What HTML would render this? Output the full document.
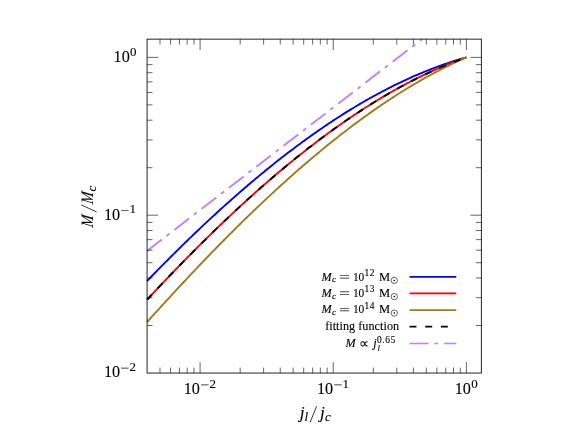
<!DOCTYPE html>
<html><head><meta charset="utf-8"><title>plot</title>
<style>html,body{margin:0;padding:0;background:#fff;}svg{display:block;font-family:"Liberation Serif",serif;}</style>
</head><body>
<svg width="578" height="432" viewBox="0 0 578 432">
<defs><filter id="soft" x="0" y="0" width="578" height="432" filterUnits="userSpaceOnUse"><feGaussianBlur stdDeviation="0.3"/></filter></defs>
<rect width="578" height="432" fill="#fff"/>
<g fill="none" stroke-width="1.9" stroke-linecap="butt" stroke-linejoin="round">
<path d="M147.08 281.01 L148.68 279.35 L150.29 277.69 L151.89 276.03 L153.50 274.38 L155.10 272.74 L156.71 271.10 L158.31 269.46 L159.92 267.83 L161.52 266.20 L163.13 264.57 L164.73 262.95 L166.34 261.33 L167.94 259.72 L169.54 258.12 L171.15 256.51 L172.75 254.91 L174.36 253.32 L175.96 251.73 L177.57 250.14 L179.17 248.56 L180.78 246.98 L182.38 245.41 L183.99 243.84 L185.59 242.28 L187.20 240.72 L188.80 239.17 L190.40 237.62 L192.01 236.07 L193.61 234.53 L195.22 233.00 L196.82 231.47 L198.43 229.94 L200.03 228.42 L201.64 226.90 L203.24 225.39 L204.85 223.88 L206.45 222.38 L208.06 220.88 L209.66 219.39 L211.26 217.90 L212.87 216.42 L214.47 214.94 L216.08 213.46 L217.68 212.00 L219.29 210.53 L220.89 209.07 L222.50 207.62 L224.10 206.17 L225.71 204.73 L227.31 203.29 L228.92 201.86 L230.52 200.43 L232.13 199.01 L233.73 197.59 L235.33 196.18 L236.94 194.77 L238.54 193.37 L240.15 191.97 L241.75 190.58 L243.36 189.19 L244.96 187.81 L246.57 186.43 L248.17 185.06 L249.78 183.70 L251.38 182.34 L252.99 180.98 L254.59 179.64 L256.19 178.29 L257.80 176.95 L259.40 175.62 L261.01 174.30 L262.61 172.97 L264.22 171.66 L265.82 170.35 L267.43 169.04 L269.03 167.74 L270.64 166.45 L272.24 165.16 L273.85 163.88 L275.45 162.60 L277.05 161.33 L278.66 160.07 L280.26 158.81 L281.87 157.56 L283.47 156.31 L285.08 155.07 L286.68 153.83 L288.29 152.60 L289.89 151.38 L291.50 150.16 L293.10 148.95 L294.71 147.74 L296.31 146.54 L297.91 145.34 L299.52 144.16 L301.12 142.97 L302.73 141.80 L304.33 140.63 L305.94 139.46 L307.54 138.30 L309.15 137.15 L310.75 136.01 L312.36 134.87 L313.96 133.73 L315.57 132.61 L317.17 131.48 L318.77 130.37 L320.38 129.26 L321.98 128.16 L323.59 127.06 L325.19 125.97 L326.80 124.89 L328.40 123.81 L330.01 122.74 L331.61 121.68 L333.22 120.62 L334.82 119.57 L336.43 118.53 L338.03 117.49 L339.63 116.46 L341.24 115.43 L342.84 114.42 L344.45 113.40 L346.05 112.40 L347.66 111.40 L349.26 110.41 L350.87 109.42 L352.47 108.44 L354.08 107.47 L355.68 106.51 L357.29 105.55 L358.89 104.60 L360.49 103.65 L362.10 102.72 L363.70 101.79 L365.31 100.86 L366.91 99.94 L368.52 99.03 L370.12 98.13 L371.73 97.23 L373.33 96.34 L374.94 95.46 L376.54 94.59 L378.15 93.72 L379.75 92.86 L381.35 92.00 L382.96 91.16 L384.56 90.32 L386.17 89.48 L387.77 88.66 L389.38 87.84 L390.98 87.03 L392.59 86.22 L394.19 85.43 L395.80 84.64 L397.40 83.85 L399.01 83.08 L400.61 82.31 L402.22 81.55 L403.82 80.80 L405.42 80.05 L407.03 79.31 L408.63 78.58 L410.24 77.86 L411.84 77.14 L413.45 76.44 L415.05 75.73 L416.66 75.04 L418.26 74.36 L419.87 73.68 L421.47 73.01 L423.08 72.34 L424.68 71.69 L426.28 71.04 L427.89 70.40 L429.49 69.77 L431.10 69.14 L432.70 68.53 L434.31 67.92 L435.91 67.32 L437.52 66.72 L439.12 66.14 L440.73 65.56 L442.33 64.99 L443.94 64.43 L445.54 63.87 L447.14 63.33 L448.75 62.79 L450.35 62.26 L451.96 61.74 L453.56 61.22 L455.17 60.72 L456.77 60.22 L458.38 59.73 L459.98 59.25 L461.59 58.77 L463.19 58.31 L464.80 57.85 L466.40 57.40" stroke="#0000ff"/>
<path d="M147.08 299.71 L148.68 297.99 L150.29 296.26 L151.89 294.55 L153.50 292.83 L155.10 291.12 L156.71 289.42 L158.31 287.71 L159.92 286.02 L161.52 284.32 L163.13 282.63 L164.73 280.94 L166.34 279.26 L167.94 277.58 L169.54 275.90 L171.15 274.23 L172.75 272.56 L174.36 270.90 L175.96 269.24 L177.57 267.58 L179.17 265.93 L180.78 264.28 L182.38 262.64 L183.99 261.00 L185.59 259.36 L187.20 257.73 L188.80 256.11 L190.40 254.48 L192.01 252.86 L193.61 251.25 L195.22 249.64 L196.82 248.03 L198.43 246.43 L200.03 244.83 L201.64 243.24 L203.24 241.65 L204.85 240.07 L206.45 238.49 L208.06 236.91 L209.66 235.34 L211.26 233.78 L212.87 232.21 L214.47 230.66 L216.08 229.10 L217.68 227.56 L219.29 226.01 L220.89 224.47 L222.50 222.94 L224.10 221.41 L225.71 219.88 L227.31 218.36 L228.92 216.85 L230.52 215.34 L232.13 213.83 L233.73 212.33 L235.33 210.83 L236.94 209.34 L238.54 207.86 L240.15 206.38 L241.75 204.90 L243.36 203.43 L244.96 201.96 L246.57 200.50 L248.17 199.04 L249.78 197.59 L251.38 196.14 L252.99 194.70 L254.59 193.26 L256.19 191.83 L257.80 190.41 L259.40 188.99 L261.01 187.57 L262.61 186.16 L264.22 184.75 L265.82 183.35 L267.43 181.96 L269.03 180.57 L270.64 179.19 L272.24 177.81 L273.85 176.43 L275.45 175.06 L277.05 173.70 L278.66 172.35 L280.26 170.99 L281.87 169.65 L283.47 168.31 L285.08 166.97 L286.68 165.64 L288.29 164.32 L289.89 163.00 L291.50 161.69 L293.10 160.38 L294.71 159.08 L296.31 157.78 L297.91 156.49 L299.52 155.21 L301.12 153.93 L302.73 152.66 L304.33 151.39 L305.94 150.13 L307.54 148.87 L309.15 147.62 L310.75 146.38 L312.36 145.14 L313.96 143.91 L315.57 142.69 L317.17 141.47 L318.77 140.25 L320.38 139.05 L321.98 137.84 L323.59 136.65 L325.19 135.46 L326.80 134.28 L328.40 133.10 L330.01 131.93 L331.61 130.76 L333.22 129.61 L334.82 128.45 L336.43 127.31 L338.03 126.17 L339.63 125.03 L341.24 123.91 L342.84 122.79 L344.45 121.67 L346.05 120.56 L347.66 119.46 L349.26 118.37 L350.87 117.28 L352.47 116.20 L354.08 115.12 L355.68 114.05 L357.29 112.99 L358.89 111.94 L360.49 110.89 L362.10 109.84 L363.70 108.81 L365.31 107.78 L366.91 106.76 L368.52 105.74 L370.12 104.73 L371.73 103.73 L373.33 102.73 L374.94 101.75 L376.54 100.76 L378.15 99.79 L379.75 98.82 L381.35 97.86 L382.96 96.91 L384.56 95.96 L386.17 95.02 L387.77 94.08 L389.38 93.16 L390.98 92.24 L392.59 91.33 L394.19 90.42 L395.80 89.52 L397.40 88.63 L399.01 87.75 L400.61 86.87 L402.22 86.00 L403.82 85.14 L405.42 84.29 L407.03 83.44 L408.63 82.60 L410.24 81.77 L411.84 80.94 L413.45 80.12 L415.05 79.31 L416.66 78.51 L418.26 77.71 L419.87 76.92 L421.47 76.14 L423.08 75.37 L424.68 74.60 L426.28 73.84 L427.89 73.09 L429.49 72.35 L431.10 71.61 L432.70 70.89 L434.31 70.17 L435.91 69.45 L437.52 68.75 L439.12 68.05 L440.73 67.36 L442.33 66.68 L443.94 66.01 L445.54 65.34 L447.14 64.68 L448.75 64.03 L450.35 63.39 L451.96 62.75 L453.56 62.13 L455.17 61.51 L456.77 60.90 L458.38 60.29 L459.98 59.70 L461.59 59.11 L463.19 58.53 L464.80 57.96 L466.40 57.40" stroke="#ff0000"/>
<path d="M147.08 322.08 L148.68 320.29 L150.29 318.51 L151.89 316.73 L153.50 314.95 L155.10 313.17 L156.71 311.40 L158.31 309.63 L159.92 307.87 L161.52 306.10 L163.13 304.34 L164.73 302.59 L166.34 300.83 L167.94 299.08 L169.54 297.34 L171.15 295.59 L172.75 293.85 L174.36 292.11 L175.96 290.38 L177.57 288.65 L179.17 286.92 L180.78 285.20 L182.38 283.48 L183.99 281.76 L185.59 280.04 L187.20 278.33 L188.80 276.63 L190.40 274.92 L192.01 273.22 L193.61 271.53 L195.22 269.84 L196.82 268.15 L198.43 266.46 L200.03 264.78 L201.64 263.10 L203.24 261.43 L204.85 259.76 L206.45 258.09 L208.06 256.43 L209.66 254.77 L211.26 253.11 L212.87 251.46 L214.47 249.82 L216.08 248.17 L217.68 246.53 L219.29 244.90 L220.89 243.27 L222.50 241.64 L224.10 240.02 L225.71 238.40 L227.31 236.78 L228.92 235.17 L230.52 233.57 L232.13 231.96 L233.73 230.36 L235.33 228.77 L236.94 227.18 L238.54 225.60 L240.15 224.02 L241.75 222.44 L243.36 220.87 L244.96 219.30 L246.57 217.74 L248.17 216.18 L249.78 214.62 L251.38 213.07 L252.99 211.53 L254.59 209.99 L256.19 208.45 L257.80 206.92 L259.40 205.40 L261.01 203.87 L262.61 202.36 L264.22 200.85 L265.82 199.34 L267.43 197.84 L269.03 196.34 L270.64 194.84 L272.24 193.36 L273.85 191.87 L275.45 190.40 L277.05 188.92 L278.66 187.45 L280.26 185.99 L281.87 184.53 L283.47 183.08 L285.08 181.63 L286.68 180.19 L288.29 178.75 L289.89 177.32 L291.50 175.89 L293.10 174.47 L294.71 173.05 L296.31 171.64 L297.91 170.23 L299.52 168.83 L301.12 167.44 L302.73 166.05 L304.33 164.66 L305.94 163.28 L307.54 161.91 L309.15 160.54 L310.75 159.18 L312.36 157.82 L313.96 156.47 L315.57 155.12 L317.17 153.78 L318.77 152.45 L320.38 151.12 L321.98 149.80 L323.59 148.48 L325.19 147.17 L326.80 145.86 L328.40 144.56 L330.01 143.26 L331.61 141.98 L333.22 140.69 L334.82 139.42 L336.43 138.15 L338.03 136.88 L339.63 135.62 L341.24 134.37 L342.84 133.12 L344.45 131.88 L346.05 130.65 L347.66 129.42 L349.26 128.20 L350.87 126.98 L352.47 125.77 L354.08 124.57 L355.68 123.37 L357.29 122.18 L358.89 120.99 L360.49 119.81 L362.10 118.64 L363.70 117.48 L365.31 116.32 L366.91 115.16 L368.52 114.02 L370.12 112.88 L371.73 111.75 L373.33 110.62 L374.94 109.50 L376.54 108.39 L378.15 107.28 L379.75 106.18 L381.35 105.08 L382.96 104.00 L384.56 102.92 L386.17 101.84 L387.77 100.78 L389.38 99.72 L390.98 98.67 L392.59 97.62 L394.19 96.58 L395.80 95.55 L397.40 94.52 L399.01 93.51 L400.61 92.49 L402.22 91.49 L403.82 90.49 L405.42 89.50 L407.03 88.52 L408.63 87.54 L410.24 86.58 L411.84 85.61 L413.45 84.66 L415.05 83.71 L416.66 82.77 L418.26 81.84 L419.87 80.92 L421.47 80.00 L423.08 79.09 L424.68 78.19 L426.28 77.29 L427.89 76.40 L429.49 75.52 L431.10 74.65 L432.70 73.78 L434.31 72.93 L435.91 72.08 L437.52 71.23 L439.12 70.40 L440.73 69.57 L442.33 68.75 L443.94 67.94 L445.54 67.14 L447.14 66.34 L448.75 65.55 L450.35 64.77 L451.96 64.00 L453.56 63.23 L455.17 62.48 L456.77 61.73 L458.38 60.99 L459.98 60.25 L461.59 59.53 L463.19 58.81 L464.80 58.10 L466.40 57.40" stroke="#a37a14"/>
<path d="M147.08 299.71 L148.68 297.99 L150.29 296.26 L151.89 294.55 L153.50 292.83 L155.10 291.12 L156.71 289.42 L158.31 287.71 L159.92 286.02 L161.52 284.32 L163.13 282.63 L164.73 280.94 L166.34 279.26 L167.94 277.58 L169.54 275.90 L171.15 274.23 L172.75 272.56 L174.36 270.90 L175.96 269.24 L177.57 267.58 L179.17 265.93 L180.78 264.28 L182.38 262.64 L183.99 261.00 L185.59 259.36 L187.20 257.73 L188.80 256.11 L190.40 254.48 L192.01 252.86 L193.61 251.25 L195.22 249.64 L196.82 248.03 L198.43 246.43 L200.03 244.83 L201.64 243.24 L203.24 241.65 L204.85 240.07 L206.45 238.49 L208.06 236.91 L209.66 235.34 L211.26 233.78 L212.87 232.21 L214.47 230.66 L216.08 229.10 L217.68 227.56 L219.29 226.01 L220.89 224.47 L222.50 222.94 L224.10 221.41 L225.71 219.88 L227.31 218.36 L228.92 216.85 L230.52 215.34 L232.13 213.83 L233.73 212.33 L235.33 210.83 L236.94 209.34 L238.54 207.86 L240.15 206.38 L241.75 204.90 L243.36 203.43 L244.96 201.96 L246.57 200.50 L248.17 199.04 L249.78 197.59 L251.38 196.14 L252.99 194.70 L254.59 193.26 L256.19 191.83 L257.80 190.41 L259.40 188.99 L261.01 187.57 L262.61 186.16 L264.22 184.75 L265.82 183.35 L267.43 181.96 L269.03 180.57 L270.64 179.19 L272.24 177.81 L273.85 176.43 L275.45 175.06 L277.05 173.70 L278.66 172.35 L280.26 170.99 L281.87 169.65 L283.47 168.31 L285.08 166.97 L286.68 165.64 L288.29 164.32 L289.89 163.00 L291.50 161.69 L293.10 160.38 L294.71 159.08 L296.31 157.78 L297.91 156.49 L299.52 155.21 L301.12 153.93 L302.73 152.66 L304.33 151.39 L305.94 150.13 L307.54 148.87 L309.15 147.62 L310.75 146.38 L312.36 145.14 L313.96 143.91 L315.57 142.69 L317.17 141.47 L318.77 140.25 L320.38 139.05 L321.98 137.84 L323.59 136.65 L325.19 135.46 L326.80 134.28 L328.40 133.10 L330.01 131.93 L331.61 130.76 L333.22 129.61 L334.82 128.45 L336.43 127.31 L338.03 126.17 L339.63 125.03 L341.24 123.91 L342.84 122.79 L344.45 121.67 L346.05 120.56 L347.66 119.46 L349.26 118.37 L350.87 117.28 L352.47 116.20 L354.08 115.12 L355.68 114.05 L357.29 112.99 L358.89 111.94 L360.49 110.89 L362.10 109.84 L363.70 108.81 L365.31 107.78 L366.91 106.76 L368.52 105.74 L370.12 104.73 L371.73 103.73 L373.33 102.73 L374.94 101.75 L376.54 100.76 L378.15 99.79 L379.75 98.82 L381.35 97.86 L382.96 96.91 L384.56 95.96 L386.17 95.02 L387.77 94.08 L389.38 93.16 L390.98 92.24 L392.59 91.33 L394.19 90.42 L395.80 89.52 L397.40 88.63 L399.01 87.75 L400.61 86.87 L402.22 86.00 L403.82 85.14 L405.42 84.29 L407.03 83.44 L408.63 82.60 L410.24 81.77 L411.84 80.94 L413.45 80.12 L415.05 79.31 L416.66 78.51 L418.26 77.71 L419.87 76.92 L421.47 76.14 L423.08 75.37 L424.68 74.60 L426.28 73.84 L427.89 73.09 L429.49 72.35 L431.10 71.61 L432.70 70.89 L434.31 70.17 L435.91 69.45 L437.52 68.75 L439.12 68.05 L440.73 67.36 L442.33 66.68 L443.94 66.01 L445.54 65.34 L447.14 64.68 L448.75 64.03 L450.35 63.39 L451.96 62.75 L453.56 62.13 L455.17 61.51 L456.77 60.90 L458.38 60.29 L459.98 59.70 L461.59 59.11 L463.19 58.53 L464.80 57.96 L466.40 57.40" stroke="#000" stroke-dasharray="6.9 8.75"/>
<path d="M147.08 250.90 L422.01 39.13" stroke="#c080ff" stroke-dasharray="18.6 6 3.75 6.1"/>
</g>
<path d="M159.99 373.05v-5.45 M159.99 39.13v5.45 M170.54 373.05v-5.45 M170.54 39.13v5.45 M179.45 373.05v-5.45 M179.45 39.13v5.45 M187.18 373.05v-5.45 M187.18 39.13v5.45 M193.99 373.05v-5.45 M193.99 39.13v5.45 M200.08 373.05v-10.90 M200.08 39.13v10.90 M240.17 373.05v-5.45 M240.17 39.13v5.45 M147.08 325.50h5.45 M481.33 325.50h-5.45 M263.61 373.05v-5.45 M263.61 39.13v5.45 M147.08 297.71h5.45 M481.33 297.71h-5.45 M280.25 373.05v-5.45 M280.25 39.13v5.45 M147.08 277.99h5.45 M481.33 277.99h-5.45 M293.15 373.05v-5.45 M293.15 39.13v5.45 M147.08 262.70h5.45 M481.33 262.70h-5.45 M303.70 373.05v-5.45 M303.70 39.13v5.45 M147.08 250.21h5.45 M481.33 250.21h-5.45 M312.61 373.05v-5.45 M312.61 39.13v5.45 M147.08 239.64h5.45 M481.33 239.64h-5.45 M320.34 373.05v-5.45 M320.34 39.13v5.45 M147.08 230.49h5.45 M481.33 230.49h-5.45 M327.15 373.05v-5.45 M327.15 39.13v5.45 M147.08 222.42h5.45 M481.33 222.42h-5.45 M333.24 373.05v-10.90 M333.24 39.13v10.90 M147.08 215.20h10.90 M481.33 215.20h-10.90 M373.33 373.05v-5.45 M373.33 39.13v5.45 M147.08 167.70h5.45 M481.33 167.70h-5.45 M396.77 373.05v-5.45 M396.77 39.13v5.45 M147.08 139.91h5.45 M481.33 139.91h-5.45 M413.41 373.05v-5.45 M413.41 39.13v5.45 M147.08 120.19h5.45 M481.33 120.19h-5.45 M426.31 373.05v-5.45 M426.31 39.13v5.45 M147.08 104.90h5.45 M481.33 104.90h-5.45 M436.86 373.05v-5.45 M436.86 39.13v5.45 M147.08 92.41h5.45 M481.33 92.41h-5.45 M445.77 373.05v-5.45 M445.77 39.13v5.45 M147.08 81.84h5.45 M481.33 81.84h-5.45 M453.50 373.05v-5.45 M453.50 39.13v5.45 M147.08 72.69h5.45 M481.33 72.69h-5.45 M460.31 373.05v-5.45 M460.31 39.13v5.45 M147.08 64.62h5.45 M481.33 64.62h-5.45 M466.40 373.05v-10.90 M466.40 39.13v10.90 M147.08 57.40h10.90 M481.33 57.40h-10.90" stroke="#000" stroke-width="0.6" fill="none"/>
<rect x="147.08" y="39.13" width="334.25" height="333.92" fill="none" stroke="#000" stroke-width="0.86"/>
<g fill="none" stroke-width="1.8">
<path d="M409.55 276.85H456.30" stroke="#0000ff"/>
<path d="M409.55 293.35H456.30" stroke="#ff0000"/>
<path d="M409.55 310.05H456.30" stroke="#a37a14"/>
<path d="M409.55 326.70H456.30" stroke="#000" stroke-dasharray="6.9 8.8"/>
<path d="M409.55 343.50H456.30" stroke="#c080ff" stroke-width="1.6" stroke-dasharray="19 5.9 3.6 6.2"/>
</g>
<g font-family="'Liberation Serif', serif" fill="#000" stroke="#000" stroke-width="0.12" filter="url(#soft)"><text x="113.60" y="61.85" font-size="17.4" textLength="16.2" lengthAdjust="spacingAndGlyphs">10</text>
<text x="130.10" y="55.55" font-size="13.0">0</text>
<text x="103.90" y="219.65" font-size="17.4" textLength="16.2" lengthAdjust="spacingAndGlyphs">10</text>
<rect x="121.30" y="210.05" width="7.3" height="0.55"/>
<text x="129.50" y="213.35" font-size="13.0">1</text>
<text x="103.90" y="377.45" font-size="17.4" textLength="16.2" lengthAdjust="spacingAndGlyphs">10</text>
<rect x="121.30" y="367.85" width="7.3" height="0.55"/>
<text x="129.50" y="371.15" font-size="13.0">2</text>
<text x="454.70" y="394.20" font-size="17.4" textLength="16.2" lengthAdjust="spacingAndGlyphs">10</text>
<text x="471.20" y="387.90" font-size="13.0">0</text>
<text x="316.94" y="394.20" font-size="17.4" textLength="16.2" lengthAdjust="spacingAndGlyphs">10</text>
<rect x="334.34" y="384.60" width="7.3" height="0.55"/>
<text x="342.54" y="387.90" font-size="13.0">1</text>
<text x="183.78" y="394.20" font-size="17.4" textLength="16.2" lengthAdjust="spacingAndGlyphs">10</text>
<rect x="201.18" y="384.60" width="7.3" height="0.55"/>
<text x="209.38" y="387.90" font-size="13.0">2</text>
<text x="299.7" y="418.30" font-size="17.4" font-style="italic">j</text>
<text x="304.5" y="421.00" font-size="13.0" font-style="italic">l</text>
<path d="M310.1 422.4L316.6 406.3" stroke="#000" stroke-width="0.8" fill="none"/>
<text x="320.1" y="418.30" font-size="17.4" font-style="italic">j</text>
<text x="324.9" y="421.00" font-size="13.0" font-style="italic">c</text>
<g transform="translate(92.7 206.2) rotate(-90)"><text transform="translate(-21.6 0) skewX(-9)" x="0" y="0" font-style="italic" font-size="17.4" textLength="11.9" lengthAdjust="spacingAndGlyphs">M</text><path d="M-5.7 3.9L1.3 -11.5" stroke="#000" stroke-width="0.8" fill="none"/><text transform="translate(1.7 0) skewX(-9)" x="0" y="0" font-style="italic" font-size="17.4" textLength="11.9" lengthAdjust="spacingAndGlyphs">M</text><text x="14.8" y="2.8" font-style="italic" font-size="13.0">c</text></g>
<text x="321.4" y="280.70" font-size="12.2" font-style="italic">M</text>
<text x="332.0" y="282.40" font-size="9.2" font-style="italic">c</text>
<rect x="340.1" y="275.35" width="8.95" height="0.55"/><rect x="340.1" y="277.85" width="8.95" height="0.55"/>
<text x="352.9" y="280.70" font-size="12.2" textLength="11.4" lengthAdjust="spacingAndGlyphs">10</text>
<text x="364.6" y="276.00" font-size="9.4" letter-spacing="0.5">12</text>
<text x="378.9" y="280.70" font-size="12.5">M</text>
<circle cx="394.3" cy="280.40" r="3.15" fill="none" stroke="#000" stroke-width="0.6"/><circle cx="394.3" cy="280.40" r="0.75"/>
<text x="321.4" y="296.90" font-size="12.2" font-style="italic">M</text>
<text x="332.0" y="298.60" font-size="9.2" font-style="italic">c</text>
<rect x="340.1" y="291.55" width="8.95" height="0.55"/><rect x="340.1" y="294.05" width="8.95" height="0.55"/>
<text x="352.9" y="296.90" font-size="12.2" textLength="11.4" lengthAdjust="spacingAndGlyphs">10</text>
<text x="364.6" y="292.20" font-size="9.4" letter-spacing="0.5">13</text>
<text x="378.9" y="296.90" font-size="12.5">M</text>
<circle cx="394.3" cy="296.60" r="3.15" fill="none" stroke="#000" stroke-width="0.6"/><circle cx="394.3" cy="296.60" r="0.75"/>
<text x="321.4" y="313.40" font-size="12.2" font-style="italic">M</text>
<text x="332.0" y="315.10" font-size="9.2" font-style="italic">c</text>
<rect x="340.1" y="308.05" width="8.95" height="0.55"/><rect x="340.1" y="310.55" width="8.95" height="0.55"/>
<text x="352.9" y="313.40" font-size="12.2" textLength="11.4" lengthAdjust="spacingAndGlyphs">10</text>
<text x="364.6" y="308.70" font-size="9.4" letter-spacing="0.5">14</text>
<text x="378.9" y="313.40" font-size="12.5">M</text>
<circle cx="394.3" cy="313.10" r="3.15" fill="none" stroke="#000" stroke-width="0.6"/><circle cx="394.3" cy="313.10" r="0.75"/>
<text x="325.2" y="330.20" font-size="12.2" textLength="73.9" lengthAdjust="spacing">fitting function</text>
<text x="345.6" y="347.25" font-size="12.2" font-style="italic">M</text>
<text x="359.0" y="347.55" font-size="14.0">∝</text>
<text x="373.3" y="347.25" font-size="12.2" font-style="italic">j</text>
<text x="376.9" y="342.95" font-size="9.4" letter-spacing="0.7">0.65</text>
<text x="377.6" y="351.25" font-size="8.8" font-style="italic">l</text></g>
</svg>
</body></html>
